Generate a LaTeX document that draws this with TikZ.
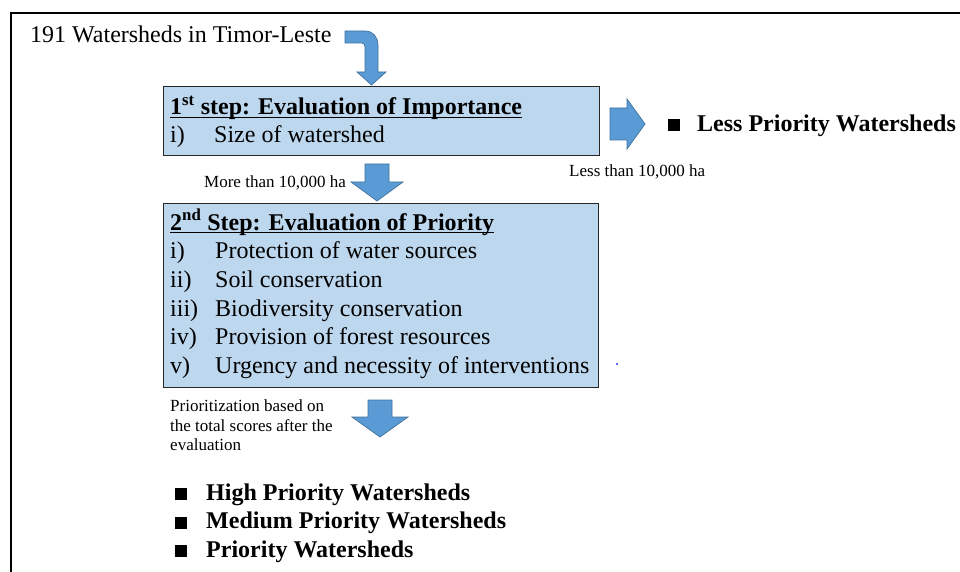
\documentclass[tikz,border=0pt]{standalone}
\usepackage{fontspec}
\setmainfont{LiberationSerif}[Extension=.ttf, UprightFont=*-Regular, BoldFont=*-Bold, ItalicFont=*-Italic, BoldItalicFont=*-BoldItalic]
\definecolor{boxfill}{HTML}{BDD7EE}
\definecolor{arrfill}{HTML}{5B9BD5}
\definecolor{arrline}{HTML}{41719C}
\newcommand\myul[1]{\setbox0\hbox{#1}\rlap{\rule[-3pt]{\wd0}{1.4pt}}\box0}
\newcommand\mysq[1]{\rule[#1]{12pt}{12pt}}
\tikzset{
 box/.style={draw=black!85, line width=0.9pt, fill=boxfill, anchor=north west, inner sep=0pt},
 big/.style={anchor=base west, inner sep=0pt, font=\fontsize{24}{28.8}\selectfont},
 bigb/.style={anchor=base west, inner sep=0pt, font=\fontsize{24}{28.8}\selectfont\bfseries},
 small/.style={anchor=base west, inner sep=0pt, font=\fontsize{17}{20}\selectfont},
 blockarrow/.style={fill=arrfill, draw=arrline, line width=0.7pt, line join=miter},
}
\begin{document}
\begin{tikzpicture}[x=1pt,y=-1pt]
\useasboundingbox (0,0) rectangle (960,572);
\fill[white] (0,0) rectangle (960,572);
\draw[line width=2pt, line join=miter] (962,13) -- (11,13) -- (11,574);

% top label
\node[big] (top) at (30,43) {191 Watersheds in Timor-Leste};

% bent arrow
\path[blockarrow] (345,31) -- (365,31) .. controls (373,31) and (378,37) .. (378,45)
  -- (378,72) -- (386,72) -- (371.5,85) -- (357,72) -- (365,72) -- (365,47)
  .. controls (365,45) and (364,43) .. (362,43) -- (345,43) -- cycle;

% box 1
\node[box, minimum width=436pt, minimum height=69pt] (box1) at (163,86) {};
\node[bigb] (t1) at (170,115) {\myul{1\textsuperscript{st} step: Evaluation of Importance}};
\node[big] (l1a) at (170,143) {i)};
\node[big] (l1b) at (214,143) {Size of watershed};

% right arrow
\path[blockarrow] (610,108) -- (627,108) -- (627,99) -- (645,124) -- (627,149) -- (627,140) -- (610,140) -- cycle;
\node[bigb] (less) at (668,132) {\mysq{1pt}\hspace{17pt}Less Priority Watersheds};
\node[small] (lessl) at (569,176) {Less than 10,000 ha};

% down arrow 1
\path[blockarrow] (365,164) -- (389,164) -- (389,182) -- (403,182) -- (377,201) -- (351,182) -- (365,182) -- cycle;
\node[small] (more) at (204,187) {More than 10,000 ha};

% box 2
\node[box, minimum width=435pt, minimum height=184pt] (box2) at (163,203) {};
\node[bigb] (t2) at (170,230) {\myul{2\textsuperscript{nd} Step: Evaluation of Priority}};
\node[big] (a1) at (170,258.5) {i)};
\node[big] (b1) at (215,258.5) {Protection of water sources};
\node[big] (a2) at (170,287.3) {ii)};
\node[big] (b2) at (215,287.3) {Soil conservation};
\node[big] (a3) at (170,316.1) {iii)};
\node[big] (b3) at (215,316.1) {Biodiversity conservation};
\node[big] (a4) at (170,344.9) {iv)};
\node[big] (b4) at (215,344.9) {Provision of forest resources};
\node[big] (a5) at (170,373.7) {v)};
\node[big] (b5) at (215,373.7) {Urgency and necessity of interventions};

\fill[blue!80] (617,364) circle (1.1pt);

% down arrow 3
\path[blockarrow] (368,400) -- (392,400) -- (392,417) -- (408,417) -- (380,437) -- (352,417) -- (368,417) -- cycle;
\node[small] (p1) at (170,411) {Prioritization based on};
\node[small] (p2) at (170,431) {the total scores after the};
\node[small] (p3) at (170,450) {evaluation};

% results
\node[bigb] (r1) at (175,500) {\mysq{0pt}\hspace{19pt}High Priority Watersheds};
\node[bigb] (r2) at (175,528.5) {\mysq{0pt}\hspace{19pt}Medium Priority Watersheds};
\node[bigb] (r3) at (175,557) {\mysq{0pt}\hspace{19pt}Priority Watersheds};
\end{tikzpicture}
\end{document}
